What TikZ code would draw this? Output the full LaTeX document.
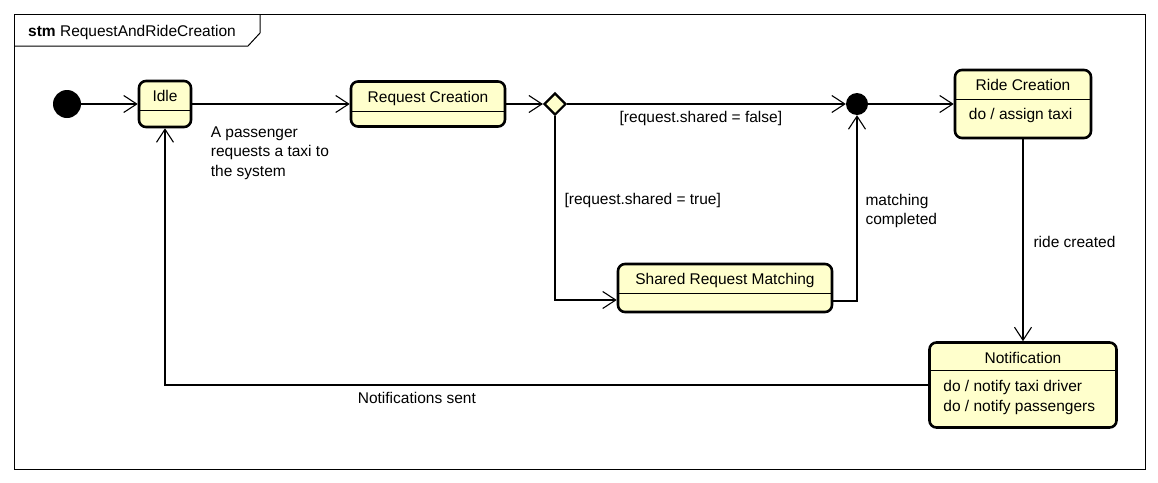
\documentclass[tikz,border=0pt]{standalone}
\usepackage{fontspec}
\setmainfont{Liberation Sans}
\usetikzlibrary{arrows.meta,shapes.geometric}

\definecolor{stateyellow}{RGB}{255,255,204}

\tikzset{
  statebox/.style={draw, line width=2.6pt, rounded corners=7pt, fill=stateyellow, inner sep=0pt},
  pseudo/.style={circle, fill=black, inner sep=0pt},
  choicept/.style={diamond, draw, line width=2.2pt, fill=stateyellow, inner sep=0pt, minimum size=22pt},
  trans/.style={line width=1.1pt, -{Straight Barb[length=13pt,width=17pt]}},
  lbl/.style={inner sep=0pt, align=left},
  stitle/.style={anchor=base, inner sep=0pt},
  sbody/.style={anchor=north west, inner sep=0pt, align=left},
  sepline/.style={line width=1.1pt},
}

\newcommand{\statesep}[2]{\draw[sepline] ([yshift=-#2pt]#1.north west) -- ([yshift=-#2pt]#1.north east);}

\begin{document}
\begin{tikzpicture}[x=1pt, y=-1pt, every node/.style={font=\fontsize{15.5}{19.5}\selectfont}]
  \useasboundingbox (0,0) rectangle (1158,482);

  % frame
  \draw[line width=1pt] (14,14) rectangle (1145,469);
  \draw[line width=1pt] (14,46) -- (248,46) -- (260,33) -- (260,14);
  \node[anchor=base west, inner sep=0pt] (title) at (28,36) {\textbf{stm} RequestAndRideCreation};

  % states
  \node[pseudo, minimum size=28pt] (init) at (67,104) {};
  \node[statebox, minimum width=52pt, minimum height=46pt,
        label={[stitle, yshift=-22pt]north:Idle}] (idle) at (165,104) {};
  \node[statebox, minimum width=154pt, minimum height=45pt,
        label={[stitle, yshift=-22pt]north:Request Creation}] (reqc) at (428,104) {};
  \node[choicept] (dia) at (555,104) {};
  \node[pseudo, minimum size=22pt] (junc) at (857,104) {};
  \node[statebox, minimum width=214pt, minimum height=48pt,
        label={[stitle, yshift=-22pt]north:Shared Request Matching}] (srm) at (725,288) {};
  \node[statebox, minimum width=136pt, minimum height=68pt,
        label={[stitle, yshift=-22pt]north:Ride Creation},
        label={[sbody, xshift=15pt, yshift=-39pt]north west:do / assign taxi}] (ride) at (1023,104) {};
  \node[statebox, minimum width=187pt, minimum height=85pt,
        label={[stitle, yshift=-22pt]north:Notification},
        label={[sbody, xshift=15pt, yshift=-39pt]north west:do / notify taxi driver\\do / notify passengers}] (notif) at (1023,385) {};

  \statesep{idle}{31}
  \statesep{reqc}{31}
  \statesep{srm}{31}
  \statesep{ride}{31}
  \statesep{notif}{29}

  % transitions
  \draw[trans] (init) -- (idle);
  \draw[trans] (idle) to node[lbl, at start, anchor=north west, xshift=18pt, yshift=-22pt]
        {A passenger\\requests a taxi to\\the system} (reqc);
  \draw[trans] (reqc) -- (dia);
  \draw[trans] (dia) to node[lbl, pos=0.48, anchor=base, yshift=-18pt] {[request.shared = false]} (junc);
  \draw[trans] (dia) |- node[lbl, pos=0.24, anchor=base west, xshift=9pt] {[request.shared = true]}
        ([yshift=-12pt]srm.west);
  \draw[trans] ([yshift=-13pt]srm.east) -| node[lbl, pos=0.79, anchor=north west, xshift=8pt]
        {matching\\completed} (junc);
  \draw[trans] (junc) -- (ride);
  \draw[trans] (ride) -- node[lbl, pos=0.535, anchor=base west, xshift=10pt] {ride created} (notif);
  \draw[trans] (notif) -| node[lbl, pos=0.335, anchor=base, yshift=-18pt] {Notifications sent} (idle);
\end{tikzpicture}
\end{document}
